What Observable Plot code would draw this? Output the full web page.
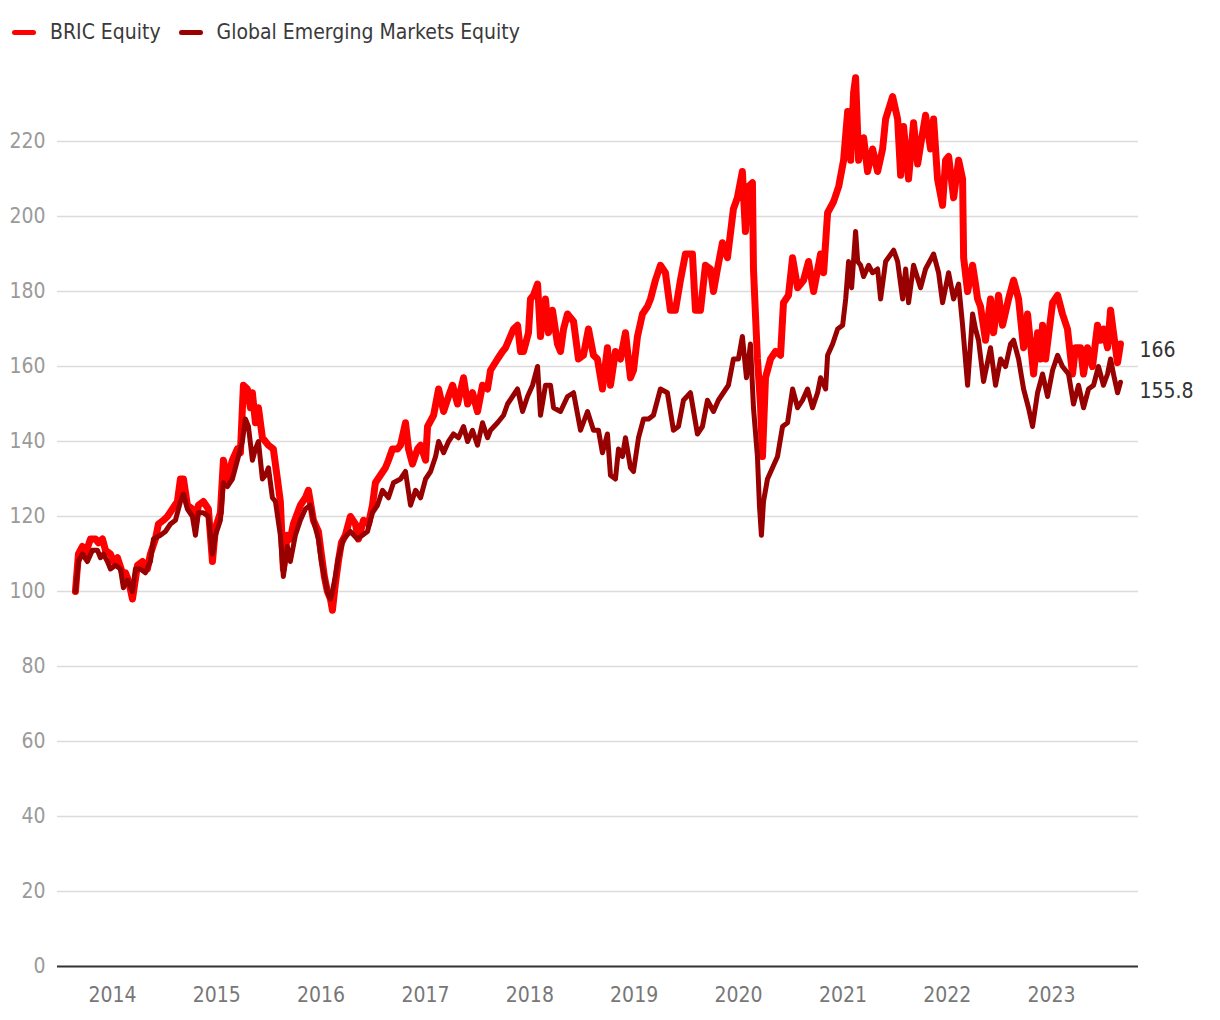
<!DOCTYPE html>
<html><head><meta charset="utf-8">
<script src="https://cdn.jsdelivr.net/npm/d3@7"></script>
<script src="https://cdn.jsdelivr.net/npm/@observablehq/plot@0.6"></script>
<style>
body{margin:0;background:#fff;font-family:"Liberation Sans Narrow","DejaVu Sans Condensed","Roboto",sans-serif;}
#legend{height:64px;display:flex;align-items:center;padding-left:12px;font-size:21px;color:#3a3a3a;box-sizing:border-box;}
.item{display:flex;align-items:center;margin-right:18px}
.sw{width:24px;height:5px;border-radius:3px;margin-right:14px}
</style></head><body>
<div id="legend"></div><div id="chart"></div>
<script>
const seriesNames = ["BRIC Equity", "Global Emerging Markets Equity"];
const seriesColors = ["#ff0000", "#990000"];
const yTicks = [0,20,40,60,80,100,120,140,160,180,200,220];
const xTickYears = [2014,2015,2016,2017,2018,2019,2020,2021,2022,2023];

const bricYears = [2013.645,2013.674,2013.712,2013.741,2013.789,2013.837,2013.866,2013.904,2013.933,2013.981,2014.010,2014.048,2014.096,2014.125,2014.153,2014.192,2014.240,2014.288,2014.335,2014.364,2014.412,2014.441,2014.489,2014.527,2014.575,2014.623,2014.652,2014.681,2014.719,2014.767,2014.796,2014.824,2014.872,2014.920,2014.959,2014.988,2015.035,2015.064,2015.102,2015.150,2015.198,2015.227,2015.256,2015.294,2015.323,2015.342,2015.371,2015.400,2015.438,2015.467,2015.496,2015.543,2015.582,2015.610,2015.639,2015.677,2015.706,2015.735,2015.802,2015.850,2015.879,2015.927,2015.975,2016.003,2016.032,2016.061,2016.090,2016.109,2016.137,2016.166,2016.195,2016.233,2016.281,2016.329,2016.358,2016.406,2016.454,2016.492,2016.520,2016.568,2016.616,2016.645,2016.683,2016.731,2016.760,2016.808,2016.837,2016.875,2016.923,2016.952,2017.000,2017.019,2017.077,2017.125,2017.173,2017.220,2017.259,2017.307,2017.364,2017.403,2017.450,2017.498,2017.546,2017.594,2017.623,2017.690,2017.738,2017.767,2017.843,2017.882,2017.911,2017.939,2017.987,2018.006,2018.035,2018.074,2018.102,2018.150,2018.179,2018.217,2018.265,2018.294,2018.323,2018.361,2018.419,2018.466,2018.514,2018.562,2018.610,2018.648,2018.696,2018.744,2018.773,2018.821,2018.869,2018.917,2018.965,2018.994,2019.032,2019.080,2019.128,2019.157,2019.204,2019.252,2019.300,2019.348,2019.396,2019.444,2019.492,2019.559,2019.588,2019.636,2019.684,2019.732,2019.761,2019.799,2019.847,2019.895,2019.952,2019.990,2020.038,2020.067,2020.096,2020.134,2020.144,2020.182,2020.211,2020.230,2020.259,2020.307,2020.355,2020.403,2020.431,2020.479,2020.518,2020.566,2020.623,2020.671,2020.719,2020.786,2020.815,2020.853,2020.911,2020.959,2021.006,2021.045,2021.074,2021.102,2021.121,2021.150,2021.198,2021.236,2021.284,2021.332,2021.380,2021.409,2021.476,2021.524,2021.553,2021.581,2021.629,2021.677,2021.716,2021.744,2021.792,2021.840,2021.869,2021.907,2021.955,2021.984,2022.013,2022.061,2022.109,2022.147,2022.157,2022.195,2022.243,2022.271,2022.291,2022.319,2022.367,2022.415,2022.444,2022.492,2022.530,2022.588,2022.636,2022.684,2022.732,2022.770,2022.799,2022.828,2022.866,2022.895,2022.914,2022.943,2023.010,2023.058,2023.105,2023.153,2023.201,2023.230,2023.278,2023.307,2023.345,2023.393,2023.441,2023.470,2023.498,2023.537,2023.566,2023.594,2023.633,2023.661];
const bricValues = [100,110,112,110,114,114,113,114,111,110,108,109,105,105,103,98,107,108,106,110,114,118,119,120,122,124,130,130,123,122,118,123,124,122,108,117,121,135,130,135,138,137,155,154,149,153,145,149,141,140,139,138,130,124,106,115,114,118,123,125,127,119,116,110,104,100,98,95,102,108,113,115,120,118,114,119,118,123,129,131,133,135,138,138,139,145,138,134,138,139,135,144,147,154,148,152,155,150,157,150,153,148,155,154,159,162,164,165,170,171,164,164,169,178,179,182,168,178,169,175,166,164,170,174,172,162,163,170,163,162,154,165,155,164,162,169,157,159,168,174,176,178,183,187,185,175,175,183,190,190,175,175,187,186,180,186,193,189,202,205,212,196,208,209,186,162,150,136,157,162,164,163,177,179,189,181,183,188,180,190,185,201,204,208,215,228,215,233,237,215,221,212,218,212,218,226,232,226,211,224,210,225,214,219,227,218,226,210,203,215,216,205,215,210,189,180,187,182,178,176,167,178,169,179,171,178,183,178,165,174,166,158,169,162,171,162,177,179,174,170,158,165,165,158,165,160,171,167,170,165,175,169,161,166];

const gemYears = [2013.645,2013.674,2013.712,2013.760,2013.808,2013.856,2013.885,2013.913,2013.952,2013.981,2014.029,2014.077,2014.105,2014.144,2014.192,2014.220,2014.268,2014.316,2014.364,2014.393,2014.460,2014.508,2014.556,2014.604,2014.652,2014.681,2014.719,2014.767,2014.796,2014.824,2014.872,2014.920,2014.959,2014.988,2015.035,2015.064,2015.102,2015.150,2015.198,2015.246,2015.275,2015.304,2015.342,2015.371,2015.400,2015.438,2015.467,2015.496,2015.534,2015.563,2015.610,2015.639,2015.677,2015.706,2015.754,2015.802,2015.850,2015.898,2015.927,2015.975,2016.003,2016.032,2016.061,2016.090,2016.109,2016.137,2016.166,2016.214,2016.281,2016.348,2016.444,2016.492,2016.540,2016.588,2016.645,2016.693,2016.760,2016.808,2016.856,2016.904,2016.952,2017.000,2017.048,2017.096,2017.125,2017.173,2017.220,2017.268,2017.316,2017.364,2017.403,2017.450,2017.498,2017.546,2017.594,2017.623,2017.690,2017.748,2017.786,2017.834,2017.882,2017.930,2017.978,2018.026,2018.074,2018.102,2018.150,2018.198,2018.227,2018.294,2018.361,2018.419,2018.486,2018.553,2018.610,2018.658,2018.696,2018.744,2018.773,2018.821,2018.850,2018.888,2018.917,2018.965,2018.994,2019.042,2019.090,2019.138,2019.185,2019.252,2019.319,2019.377,2019.425,2019.473,2019.540,2019.607,2019.655,2019.703,2019.761,2019.808,2019.856,2019.904,2019.952,2020.000,2020.038,2020.077,2020.115,2020.144,2020.182,2020.201,2020.220,2020.240,2020.278,2020.326,2020.374,2020.422,2020.470,2020.518,2020.566,2020.613,2020.661,2020.709,2020.757,2020.786,2020.834,2020.853,2020.901,2020.949,2020.997,2021.026,2021.054,2021.083,2021.121,2021.141,2021.169,2021.198,2021.246,2021.284,2021.332,2021.361,2021.409,2021.486,2021.524,2021.572,2021.601,2021.629,2021.677,2021.744,2021.792,2021.869,2021.917,2021.955,2022.013,2022.061,2022.109,2022.147,2022.195,2022.243,2022.271,2022.300,2022.348,2022.415,2022.463,2022.511,2022.559,2022.607,2022.636,2022.684,2022.732,2022.779,2022.818,2022.866,2022.914,2022.962,2023.010,2023.058,2023.105,2023.163,2023.211,2023.259,2023.307,2023.355,2023.403,2023.450,2023.498,2023.537,2023.566,2023.594,2023.633,2023.661];
const gemValues = [100,108,110,108,111,111,109,110,108,106,107,106,101,103,100,106,106,105,108,114,115,116,118,119,124,126,122,120,115,121,121,120,110,115,119,129,128,130,135,140,146,144,135,138,140,130,131,133,125,124,115,104,112,108,115,119,122,123,119,114,108,104,100,98,100,104,109,114,116,114,116,121,123,127,125,129,130,132,123,127,125,130,132,136,140,137,140,142,141,144,140,143,139,145,141,143,145,147,150,152,154,148,152,155,160,147,155,155,149,148,152,153,143,148,143,143,137,142,131,130,138,136,141,133,132,141,146,146,147,154,153,143,144,151,153,142,144,151,148,151,153,155,162,162,168,157,166,149,136,123,115,124,130,133,136,144,145,154,149,151,154,149,153,157,154,163,166,170,171,178,188,181,196,188,187,184,187,185,186,178,188,191,188,178,186,177,187,181,186,190,185,177,185,178,182,171,155,174,170,167,156,165,155,162,160,166,167,162,154,149,144,153,158,152,159,163,160,158,150,155,149,154,155,160,155,158,162,158,153,155.8];

function toDate(t) {
  const y = Math.floor(t);
  const s = Date.UTC(y, 0, 1), e = Date.UTC(y + 1, 0, 1);
  return new Date(s + (t - y) * (e - s));
}
const bric = bricYears.map((t, i) => ({date: toDate(t), value: bricValues[i], series: seriesNames[0]}));
const gem = gemYears.map((t, i) => ({date: toDate(t), value: gemValues[i], series: seriesNames[1]}));
const bricLast = [{...bric[bric.length - 1], label: "166"}];
const gemLast = [{...gem[gem.length - 1], label: "155.8"}];

// legend
const legend = document.getElementById("legend");
seriesNames.forEach((n, i) => {
  const it = document.createElement("div"); it.className = "item";
  const sw = document.createElement("div"); sw.className = "sw"; sw.style.background = seriesColors[i];
  const tx = document.createElement("span"); tx.textContent = n;
  it.appendChild(sw); it.appendChild(tx); legend.appendChild(it);
});

const font = '"Liberation Sans Narrow","DejaVu Sans Condensed","Roboto",sans-serif';
const chart = Plot.plot({
  width: 1220,
  height: 956,
  marginTop: 2,
  marginBottom: 54,
  marginLeft: 57,
  marginRight: 82,
  style: {fontFamily: font, fontSize: "21px", background: "#fff"},
  x: {type: "utc", domain: [toDate(2013.473), toDate(2023.834)]},
  y: {domain: [0, 240]},
  marks: [
    Plot.gridY(yTicks.filter(d => d > 0), {stroke: "#dcdcdc", strokeOpacity: 1, strokeWidth: 1.5}),
    Plot.axisY(yTicks, {tickSize: 0, tickPadding: 12, color: "#9a9a9a", fontSize: 21, label: null}),
    Plot.axisX(xTickYears.map(y => new Date(Date.UTC(y, 0, 1))), {tickSize: 0, tickPadding: 21, tickFormat: d3.utcFormat("%Y"), color: "#777", fontSize: 21, label: null}),
    Plot.ruleY([0], {stroke: "#333", strokeWidth: 2}),
    Plot.line(bric, {x: "date", y: "value", stroke: seriesColors[0], strokeWidth: 7, strokeLinejoin: "round", strokeLinecap: "round"}),
    Plot.line(gem, {x: "date", y: "value", stroke: seriesColors[1], strokeWidth: 5, strokeLinejoin: "round", strokeLinecap: "round"}),
    Plot.text(bricLast, {x: "date", y: "value", text: "label", dx: 19, dy: 6, textAnchor: "start", fill: "#333", fontSize: 21}),
    Plot.text(gemLast, {x: "date", y: "value", text: "label", dx: 19, dy: 9, textAnchor: "start", fill: "#333", fontSize: 21})
  ]
});
document.getElementById("chart").appendChild(chart);
</script>
</body></html>
